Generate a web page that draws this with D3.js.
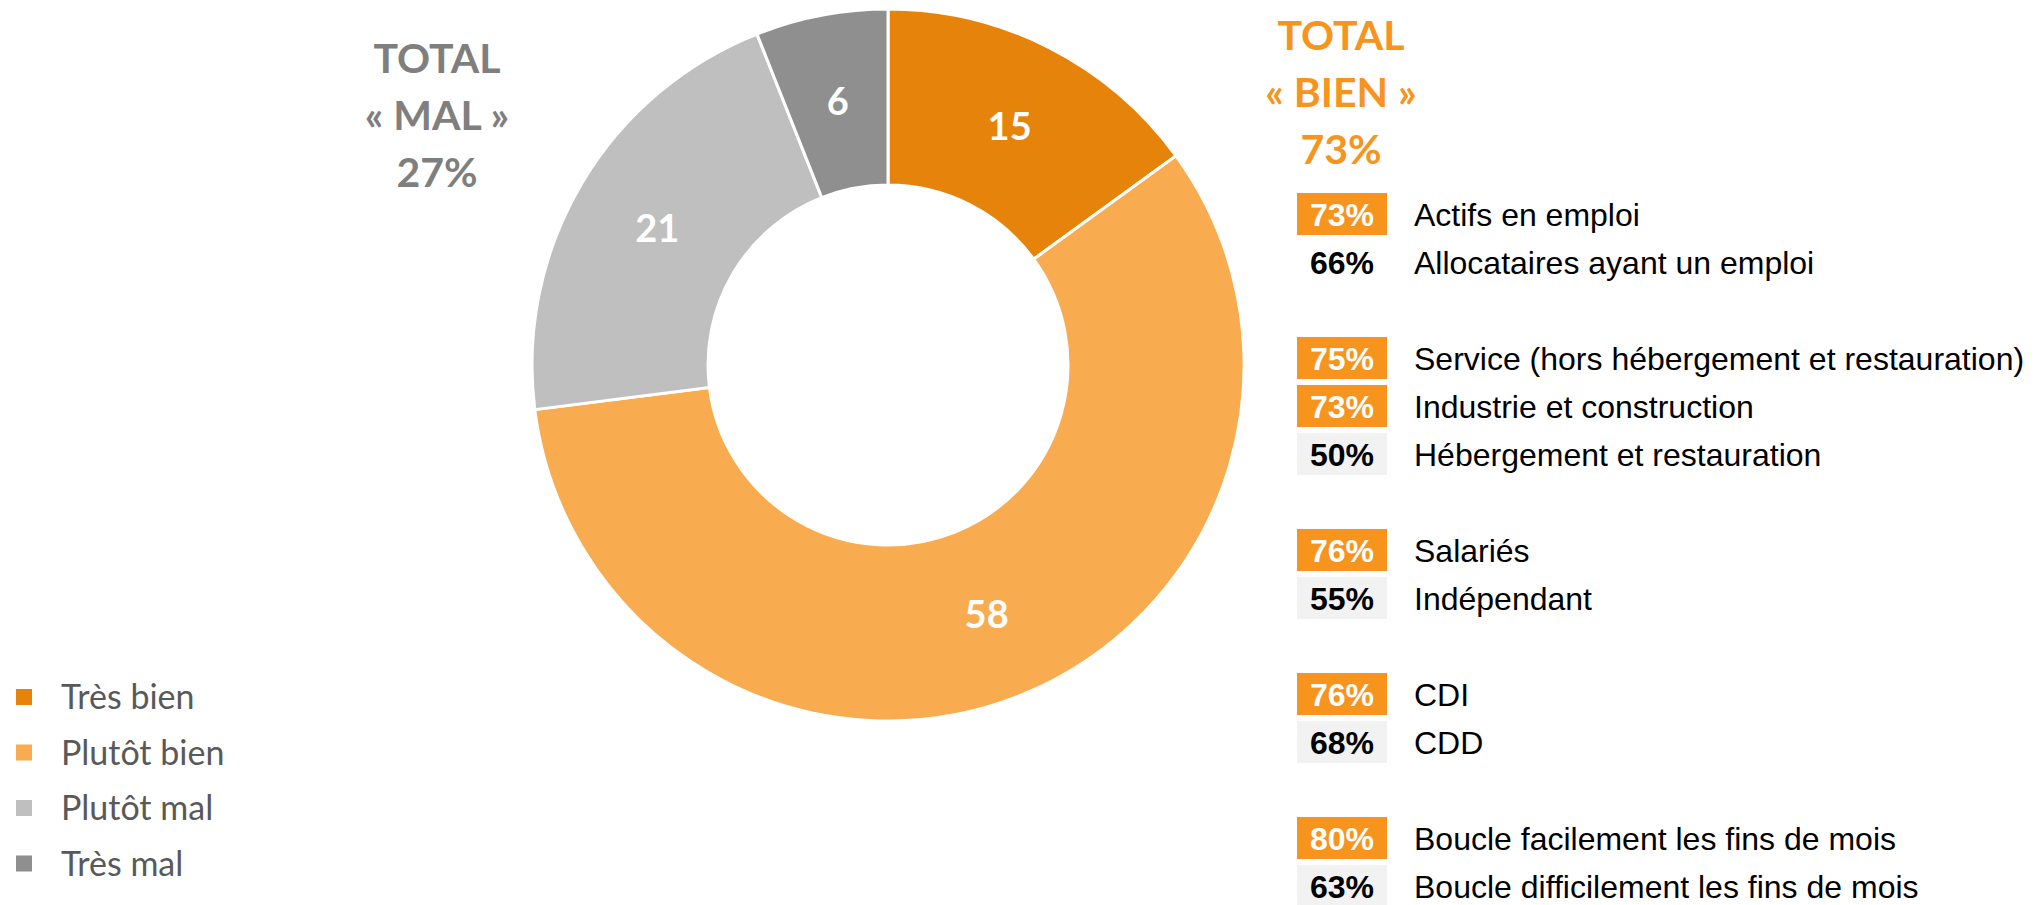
<!DOCTYPE html>
<html>
<head>
<meta charset="utf-8">
<script src="https://cdn.jsdelivr.net/npm/d3@7/dist/d3.min.js"></script>
<style>
  body { margin: 0; background: #fff; }
  svg { display: block; }
</style>
</head>
<body>
<div id="chart"></div>
<script>
// Donut data
const categories = ['Très bien', 'Plutôt bien', 'Plutôt mal', 'Très mal'];
const values = [15, 58, 21, 6];
const sliceColors = ['#E6830B', '#F9AC4F', '#BFBFBF', '#8F8F8F'];

// Totals
const totalMal = ['TOTAL', '« MAL »', '27%'];
const totalBien = ['TOTAL', '« BIEN »', '73%'];

// Detail list on the right
const rowSlots = [0, 1, 3, 4, 5, 7, 8, 10, 11, 13, 14];
const rowPcts = ['73%', '66%', '75%', '73%', '50%', '76%', '55%', '76%', '68%', '80%', '63%'];
const rowLabels = [
  'Actifs en emploi',
  'Allocataires ayant un emploi',
  'Service (hors hébergement et restauration)',
  'Industrie et construction',
  'Hébergement et restauration',
  'Salariés',
  'Indépendant',
  'CDI',
  'CDD',
  'Boucle facilement les fins de mois',
  'Boucle difficilement les fins de mois'
];
const rowKinds = ['hi', 'none', 'hi', 'hi', 'lo', 'hi', 'lo', 'hi', 'lo', 'hi', 'lo'];

const width = 2042, height = 905;
const cx = 888, cy = 365, rOut = 356, rIn = 180;

const svg = d3.select('#chart').append('svg')
  .attr('width', width)
  .attr('height', height);

// donut
const pie = d3.pie().sort(null).value(d => d);
const arc = d3.arc().innerRadius(rIn).outerRadius(rOut);
const color = d3.scaleOrdinal().domain(categories).range(sliceColors);

const g = svg.append('g').attr('transform', `translate(${cx},${cy})`);
const arcs = pie(values);
g.selectAll('path')
  .data(arcs)
  .enter()
  .append('path')
  .attr('d', arc)
  .attr('fill', (d, i) => color(categories[i]))
  .attr('stroke', '#fff')
  .attr('stroke-width', 3);
g.selectAll('text')
  .data(arcs)
  .enter()
  .append('text')
  .attr('transform', d => `translate(${arc.centroid(d)})`)
  .attr('dy', '0.36em')
  .attr('text-anchor', 'middle')
  .attr('fill', '#fff')
  .attr('font-family', 'Lato, sans-serif')
  .attr('font-weight', 'bold')
  .attr('font-size', '38px')
  .text(d => d.data);

// totals
function drawTotal(lines, x, y0, fill) {
  svg.append('g')
    .selectAll('text')
    .data(lines)
    .enter()
    .append('text')
    .attr('x', x)
    .attr('y', (d, i) => y0 + i * 57)
    .attr('text-anchor', 'middle')
    .attr('fill', fill)
    .attr('font-family', 'Lato, sans-serif')
    .attr('font-weight', 'bold')
    .attr('font-size', '41px')
    .text(d => d);
}
drawTotal(totalMal, 437, 73, '#7F7F7F');
drawTotal(totalBien, 1341, 50, '#F7941D');

// right list
const y = d3.scaleLinear().domain([0, 1]).range([193, 241]);
const boxX = 1297, boxW = 90, boxH = 42;
const rows = rowSlots.map((s, i) => ({slot: s, pct: rowPcts[i], label: rowLabels[i], kind: rowKinds[i]}));
const rg = svg.append('g')
  .selectAll('g')
  .data(rows)
  .enter()
  .append('g')
  .attr('transform', d => `translate(0,${y(d.slot)})`);
rg.append('rect')
  .attr('x', boxX)
  .attr('width', boxW)
  .attr('height', boxH)
  .attr('fill', d => d.kind == 'hi' ? '#F7941D' : d.kind == 'lo' ? '#F2F2F2' : 'none');
rg.append('text')
  .attr('x', boxX + boxW / 2)
  .attr('y', boxH / 2)
  .attr('dy', '0.36em')
  .attr('text-anchor', 'middle')
  .attr('fill', d => d.kind == 'hi' ? '#fff' : '#000')
  .attr('font-family', '"Liberation Sans Narrow", "Arial Narrow", sans-serif')
  .attr('font-weight', 'bold')
  .attr('font-size', '32px')
  .text(d => d.pct);
rg.append('text')
  .attr('x', 1414)
  .attr('y', boxH / 2)
  .attr('dy', '0.36em')
  .attr('fill', '#000')
  .attr('font-family', '"Liberation Sans Narrow", "Arial Narrow", sans-serif')
  .attr('font-size', '32px')
  .text(d => d.label);

// legend
const ly = d3.scaleLinear().domain([0, 1]).range([697, 752.5]);
const lg = svg.append('g')
  .selectAll('g')
  .data(categories)
  .enter()
  .append('g')
  .attr('transform', (d, i) => `translate(0,${ly(i)})`);
lg.append('rect')
  .attr('x', 16)
  .attr('y', -8)
  .attr('width', 16)
  .attr('height', 16)
  .attr('fill', d => color(d));
lg.append('text')
  .attr('x', 61)
  .attr('dy', '0.36em')
  .attr('fill', '#595959')
  .attr('font-family', 'Lato, sans-serif')
  .attr('font-size', '34px')
  .text(d => d);
</script>
</body>
</html>
